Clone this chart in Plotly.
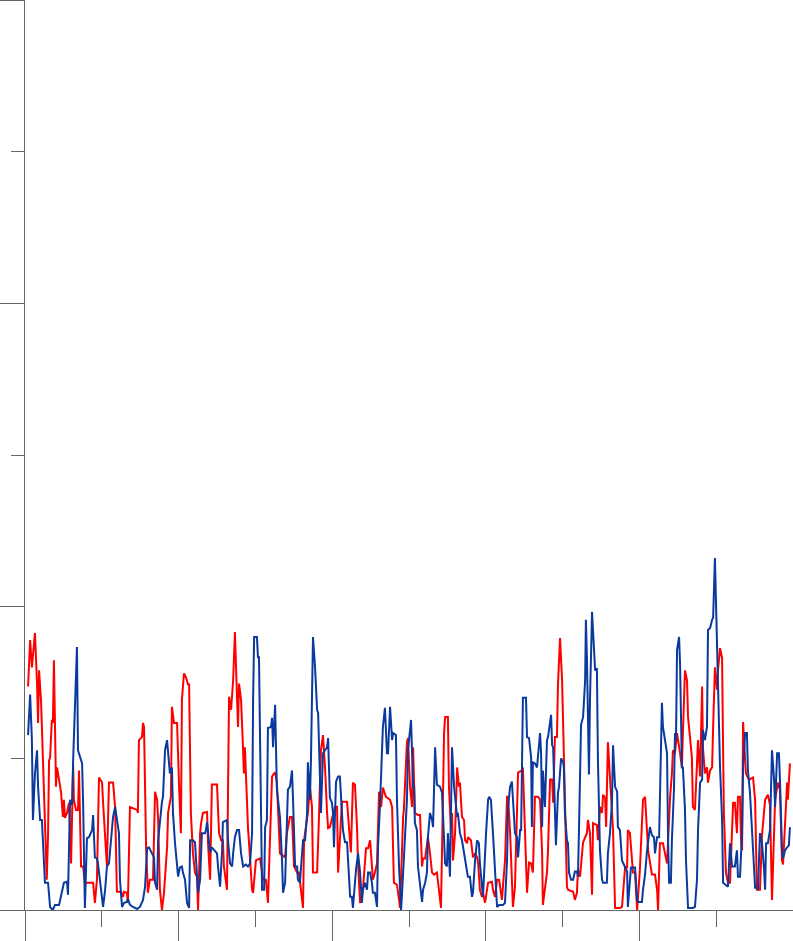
import plotly.graph_objects as go

# ---- red series (x in sample units, y in value units) ----
red_x = [1.2, 2.0, 2.7, 3.9, 4.7, 5.1, 5.5, 6.3, 6.6, 7.8, 8.5, 9.0, 9.4, 9.8, 10.5, 10.9, 11.3,
         12.1, 12.5, 13.3, 14.1, 14.8, 15.2, 15.6, 16.4, 17.2, 17.6, 18.0, 18.8, 19.1, 19.9, 20.7,
         21.1, 21.9, 22.7, 23.4, 25.4, 26.6, 27.3, 28.1, 28.9, 30.1, 30.5, 31.6, 32.0, 32.8, 34.4,
         35.2, 35.9, 37.5, 38.3, 38.7, 39.8, 40.2, 41.0, 43.8, 44.1, 44.5, 45.7, 46.1, 46.5, 47.3,
         48.0, 48.8, 50.0, 50.8, 51.6, 52.0, 52.7, 53.5, 54.3, 55.5, 55.9, 57.0, 57.4, 58.2, 59.4,
         60.2, 60.9, 61.3, 62.1, 62.9, 63.7, 64.1, 64.8, 65.6, 66.4, 67.2, 67.6, 68.4, 68.8, 69.5,
         71.1, 71.5, 72.3, 73.0, 75.0, 75.8, 76.6, 77.3, 77.7, 78.9, 79.7, 80.5, 81.3, 82.0, 82.8,
         83.2, 83.6, 84.4, 85.2, 85.5, 85.9, 86.7, 87.1, 88.7, 89.1, 90.2, 91.8, 93.0, 94.1, 94.9,
         96.5, 97.3, 97.7, 98.4, 99.6, 101.6, 102.3, 103.5, 104.3, 105.1, 106.3, 107.0, 107.8,
         108.6, 109.0, 110.2, 110.5, 111.3, 112.1, 112.5, 114.1, 114.8, 115.6, 116.4, 117.2, 118.0,
         118.4, 119.1, 119.9, 121.1, 121.9, 122.3, 123.0, 123.8, 125.8, 126.6, 127.3, 128.1, 128.9,
         129.7, 130.1, 130.9, 132.0, 133.2, 134.0, 134.8, 135.5, 135.9, 136.7, 137.5, 138.3, 139.1,
         139.8, 141.0, 142.6, 143.4, 144.1, 145.3, 146.1, 146.5, 147.7, 148.0, 149.2, 149.6, 150.4,
         151.2, 151.6, 152.3, 153.5, 154.3, 155.1, 155.5, 156.3, 157.0, 157.4, 158.2, 159.0, 159.8,
         160.9, 161.7, 162.5, 163.3, 163.7, 164.1, 165.2, 165.6, 166.4, 166.8, 167.2, 168.0, 168.8,
         169.5, 169.9, 170.7, 171.5, 171.9, 172.7, 173.0, 174.2, 175.0, 175.8, 176.6, 177.0, 177.7,
         178.5, 178.9, 179.7, 180.9, 182.4, 182.8, 183.6, 184.4, 185.2, 186.3, 187.5, 188.3, 188.7,
         189.5, 190.2, 190.6, 191.4, 192.2, 192.6, 194.1, 194.5, 194.9, 196.1, 196.9, 197.7, 198.4,
         199.2, 200.4, 201.2, 202.0, 202.3, 203.9, 204.3, 205.1, 205.9, 206.3, 207.0, 207.8, 208.2,
         209.0, 209.8, 210.2, 210.9, 211.7, 212.1, 214.1, 214.8, 215.6, 216.0, 216.8, 217.6, 218.0,
         219.5, 219.9, 220.7, 221.5, 221.9, 223.4, 223.8, 224.6, 225.4, 225.8, 226.6, 227.0, 227.7,
         228.5, 229.3, 229.7, 230.5, 232.4, 233.2, 233.6, 234.4, 235.2, 235.5, 236.3, 237.1, 237.5,
         238.3, 239.1, 240.2, 241.4, 242.2, 243.0, 243.4, 244.9, 246.1, 246.9, 247.3, 248.0, 249.2,
         250.8, 251.2, 252.0, 252.7, 253.1, 253.9, 254.7, 255.9, 256.6, 257.0, 257.8, 258.6, 259.0,
         260.5, 260.9, 261.7, 262.5, 262.9, 263.7, 264.5, 264.8, 265.6, 266.4, 266.8, 267.6, 268.4,
         268.8, 269.5, 270.3, 270.7, 271.5, 272.3, 272.7, 273.0, 273.8, 274.6, 275.4, 275.8, 276.6,
         277.3, 278.1, 278.5, 279.3, 279.7, 280.1, 280.5, 281.3, 281.6, 282.8, 284.4, 285.2, 285.9,
         287.1, 287.9, 289.1, 290.2, 291.0, 291.8, 293.0, 294.1, 294.9, 295.7, 296.1, 297.7, 298.0,
         298.8]
red_y = [221, 267, 240, 274, 224, 185, 237, 205, 181, 76, 30, 74, 148, 151, 188, 185, 247,
         122, 141, 129, 116, 92, 109, 91, 96, 106, 79, 46, 143, 109, 99, 99,
         138, 43, 43, 27, 27, 27, 7, 30, 131, 126, 106, 62, 43, 126, 126,
         102, 18, 18, 13, 18, 17, 7, 102, 99, 96, 168, 171, 185, 181, 62,
         17, 30, 30, 117, 109, 89, 20, 0, 17, 62, 96, 112, 201, 185, 185,
         122, 76, 208, 234, 230, 223, 223, 96, 56, 37, 33, 0, 76, 86, 96,
         97, 66, 30, 124, 124, 76, 69, 69, 43, 20, 211, 198, 227, 275, 215,
         181, 224, 208, 158, 135, 161, 109, 82, 20, 17, 49, 51, 30, 30, 7,
         132, 135, 136, 126, 56, 52, 76, 92, 92, 43, 37, 37, 17,
         2, 69, 89, 96, 122, 102, 37, 37, 89, 158, 173, 141, 96,
         81, 82, 89, 102, 102, 37, 69, 107, 107, 76, 57, 126, 124,
         82, 46, 7, 20, 61, 61, 69, 49, 30, 37, 46, 117, 102,
         121, 112, 109, 102, 27, 25, 10, 2, 92, 99, 166, 170, 122,
         102, 161, 96, 94, 94, 43, 51, 51, 62, 72, 56, 37, 35,
         37, 20, 2, 116, 175, 191, 191, 122, 79, 96, 49, 76, 141,
         122, 126, 92, 89, 69, 66, 72, 69, 52, 56, 52, 46, 20,
         13, 17, 7, 27, 28, 20, 13, 30, 30, 10, 49, 112, 112,
         76, 30, 3, 23, 122, 136, 138, 141, 109, 17, 47, 46, 37,
         112, 112, 109, 56, 5, 37, 59, 129, 129, 106, 171, 171, 224,
         269, 227, 185, 119, 23, 20, 18, 10, 17, 40, 33, 56, 67,
         76, 89, 76, 15, 86, 84, 69, 102, 96, 114, 111, 82, 166,
         135, 102, 79, 2, 2, 3, 17, 42, 42, 79, 76, 49, 37,
         37, 0, 40, 109, 112, 82, 59, 35, 35, 20, 0, 66, 66,
         46, 72, 112, 135, 158, 155, 175, 155, 141, 175, 237, 227, 191,
         151, 102, 99, 151, 168, 132, 221, 161, 135, 141, 126, 138, 141,
         181, 240, 218, 237, 259, 249, 158, 96, 37, 27, 27, 56, 106,
         106, 76, 112, 112, 69, 59, 186, 148, 135, 129, 131, 109, 20,
         20, 74, 109, 114, 104, 10, 109, 126, 119, 49, 45, 126, 109,
         145]

# ---- blue series ----
blue_x = [1.2, 2.0, 2.7, 3.1, 3.9, 4.7, 5.1, 5.9, 6.6, 7.0, 7.8, 9.0, 9.8, 10.9, 11.7, 13.3,
          14.5, 15.2, 16.4, 16.8, 17.6, 18.4, 18.8, 19.5, 20.3, 20.7, 21.5, 22.3, 22.7, 23.0, 23.4,
          24.2, 25.0, 26.2, 26.6, 27.3, 28.1, 28.5, 29.3, 30.5, 31.3, 32.0, 32.8, 34.0, 34.4, 35.2,
          35.9, 36.7, 37.1, 37.9, 38.7, 39.8, 40.2, 41.0, 42.2, 43.8, 44.9, 46.1, 46.9, 47.7, 48.4,
          49.6, 50.4, 50.8, 51.6, 52.0, 52.7, 53.5, 53.9, 54.7, 55.5, 55.9, 56.6, 57.4, 57.8, 58.6,
          59.4, 59.8, 60.5, 61.3, 61.7, 62.5, 63.3, 64.1, 64.5, 65.6, 66.4, 67.2, 67.6, 68.4, 69.1,
          70.3, 70.7, 71.1, 71.5, 72.3, 73.0, 73.4, 75.0, 75.4, 76.2, 77.0, 77.3, 78.9, 79.3, 80.1,
          80.9, 81.3, 82.0, 82.8, 83.6, 84.4, 85.2, 86.3, 87.1, 87.9, 88.7, 89.1, 89.5, 90.6, 91.0,
          91.4, 91.8, 92.2, 92.6, 93.4, 93.8, 94.5, 94.9, 96.1, 96.5, 96.9, 97.7, 98.4, 98.8, 99.6,
          100.4, 100.8, 101.6, 102.3, 102.7, 103.5, 104.3, 104.7, 105.5, 106.3, 106.6, 107.4, 108.2,
          108.6, 109.4, 110.2, 110.5, 111.3, 111.7, 112.5, 113.3, 114.1, 114.5, 115.2, 115.6, 116.4,
          117.2, 118.0, 118.4, 119.1, 119.9, 120.3, 120.7, 121.5, 122.3, 123.0, 124.2, 125.0, 125.8,
          126.2, 127.0, 127.7, 128.1, 129.3, 130.1, 130.9, 131.6, 132.0, 132.8, 133.6, 134.0, 134.8,
          135.5, 135.9, 136.7, 137.5, 137.9, 138.7, 139.5, 139.8, 140.6, 141.4, 141.8, 142.6, 143.4,
          143.8, 144.9, 145.3, 146.1, 146.5, 146.9, 147.3, 148.0, 149.2, 149.6, 150.4, 150.8, 151.6,
          152.0, 152.3, 153.1, 153.5, 154.3, 155.1, 155.5, 156.3, 157.0, 157.4, 158.2, 159.0, 159.4,
          160.2, 160.9, 162.1, 162.9, 163.3, 164.1, 164.8, 165.2, 166.0, 166.8, 167.6, 168.8, 169.1,
          169.9, 170.7, 171.5, 172.3, 173.0, 173.8, 174.6, 175.0, 175.8, 176.6, 177.3, 177.7, 178.5,
          178.9, 180.1, 180.9, 181.3, 182.0, 182.8, 183.6, 184.4, 185.2, 186.7, 187.5, 188.3, 188.7,
          189.5, 190.2, 190.6, 191.4, 192.2, 192.6, 193.4, 193.8, 194.5, 195.7, 196.1, 196.9, 197.7,
          198.0, 198.4, 199.2, 200.0, 201.2, 201.6, 202.0, 202.3, 203.1, 203.9, 204.3, 205.5, 205.9,
          206.3, 207.0, 207.4, 208.2, 208.6, 209.4, 210.2, 210.5, 210.9, 211.7, 212.1, 212.5, 213.3,
          214.1, 214.8, 215.6, 216.0, 216.4, 217.2, 218.0, 218.8, 219.1, 219.5, 220.3, 220.7, 221.5,
          222.3, 222.7, 223.4, 223.8, 224.6, 225.4, 225.8, 227.3, 227.7, 228.5, 229.3, 229.7, 230.5,
          231.3, 231.6, 232.4, 233.2, 234.0, 235.2, 235.5, 236.7, 238.3, 239.1, 239.5, 241.0, 241.4,
          242.2, 243.0, 244.1, 244.9, 245.7, 246.1, 246.9, 247.7, 248.0, 248.8, 249.2, 250.8, 251.2,
          251.6, 252.3, 252.7, 253.5, 253.9, 254.3, 254.7, 255.5, 255.9, 256.6, 257.0, 257.8, 258.2,
          259.0, 260.9, 261.7, 262.5, 262.9, 263.7, 264.5, 264.8, 265.6, 266.4, 266.8, 267.6, 268.4,
          268.8, 269.5, 269.9, 270.3, 270.7, 271.5, 272.3, 272.7, 274.6, 275.4, 276.2, 277.3, 278.1,
          278.5, 279.3, 280.1, 280.5, 281.3, 282.0, 282.4, 283.2, 284.0, 284.4, 285.2, 285.9, 286.3,
          287.1, 287.9, 288.7, 289.1, 289.5, 290.2, 291.0, 291.8, 292.6, 293.0, 293.8, 294.5, 294.9,
          295.7, 296.1, 296.9, 297.7, 298.4, 298.8]
blue_y = [173, 213, 168, 89, 135, 158, 122, 89, 89, 69, 27, 27, 3, 0, 5, 5,
          18, 27, 28, 15, 109, 104, 148, 205, 260, 158, 151, 145, 106, 30, 2,
          71, 72, 79, 94, 52, 51, 46, 27, 3, 20, 43, 46, 82, 92, 102,
          89, 76, 30, 3, 7, 8, 11, 5, 3, 1, 3, 10, 23, 61, 62,
          56, 52, 27, 20, 69, 89, 107, 112, 158, 168, 155, 135, 141, 96, 66,
          43, 33, 42, 43, 37, 30, 7, 2, 69, 69, 67, 38, 17, 30, 76,
          76, 79, 87, 76, 57, 62, 61, 56, 43, 23, 59, 87, 89, 69, 46,
          43, 56, 72, 79, 79, 56, 43, 45, 43, 46, 76, 208, 270, 270, 250,
          250, 188, 119, 20, 20, 82, 89, 180, 181, 190, 161, 203, 119, 109, 92,
          49, 17, 27, 92, 119, 122, 138, 109, 43, 43, 30, 27, 56,
          69, 69, 96, 146, 109, 148, 270, 240, 198, 195, 138, 96, 155,
          158, 161, 170, 111, 106, 96, 62, 127, 132, 132, 79, 67, 67,
          52, 13, 13, 2, 40, 56, 37, 7, 20, 27, 20, 37, 37,
          27, 17, 17, 3, 62, 106, 155, 181, 200, 155, 155, 201, 168,
          175, 173, 109, 43, 10, 0, 17, 56, 109, 158, 183, 188, 122,
          122, 86, 79, 43, 23, 8, 20, 27, 37, 72, 96, 89, 82,
          161, 124, 122, 116, 92, 46, 43, 76, 33, 161, 122, 92, 96,
          76, 69, 56, 43, 33, 33, 13, 17, 49, 69, 66, 46, 23,
          13, 76, 109, 112, 109, 76, 33, 3, 5, 5, 7, 49, 102,
          122, 127, 109, 76, 72, 52, 79, 79, 210, 210, 171, 170, 151,
          82, 146, 145, 141, 175, 155, 82, 138, 102, 168, 171, 193, 163,
          161, 86, 64, 116, 122, 150, 146, 141, 96, 69, 66, 37, 30,
          30, 38, 38, 33, 79, 183, 191, 227, 287, 250, 134, 208, 295,
          247, 237, 239, 148, 59, 30, 27, 27, 56, 76, 106, 163, 122,
          117, 82, 79, 49, 45, 38, 3, 42, 42, 10, 8, 8, 20,
          35, 59, 82, 74, 72, 56, 72, 72, 119, 205, 181, 155, 69,
          27, 27, 69, 119, 175, 168, 257, 270, 242, 141, 141, 99, 49,
          2, 2, 3, 30, 79, 126, 129, 178, 168, 181, 277, 279, 287,
          289, 348, 307, 267, 230, 141, 89, 27, 23, 66, 43, 43, 59,
          33, 33, 76, 141, 175, 175, 138, 116, 79, 49, 22, 22, 20,
          76, 66, 40, 20, 66, 66, 79, 158, 129, 102, 155, 155, 129,
          59, 51, 59, 62, 64, 82]

RED = "#ff0000"
BLUE = "#0a3a9e"
AXIS = "#666666"

fig = go.Figure()
fig.add_trace(go.Scatter(x=red_x, y=red_y, mode="lines",
                         line=dict(color=RED, width=2), name="red"))
fig.add_trace(go.Scatter(x=blue_x, y=blue_y, mode="lines",
                         line=dict(color=BLUE, width=2), name="blue"))

fig.update_layout(
    width=793, height=941,
    margin=dict(l=25, r=0, t=0, b=31, pad=0, autoexpand=False),
    paper_bgcolor="white", plot_bgcolor="white",
    showlegend=False,
)
fig.update_xaxes(
    range=[0, 300], showgrid=False, zeroline=False, showticklabels=False, automargin=False,
    showline=True, linecolor=AXIS, linewidth=1,
    ticks="outside", dtick=60, tick0=0, ticklen=40, tickcolor=AXIS, tickwidth=1,
    minor=dict(ticks="outside", dtick=30, tick0=0, ticklen=16, tickcolor=AXIS, tickwidth=1, showgrid=False),
)
fig.update_yaxes(
    range=[0, 900], showgrid=False, zeroline=False, showticklabels=False, automargin=False,
    showline=True, linecolor=AXIS, linewidth=1,
    ticks="outside", dtick=300, tick0=0, ticklen=30, tickcolor=AXIS, tickwidth=1,
    minor=dict(ticks="outside", dtick=150, tick0=0, ticklen=13, tickcolor=AXIS, tickwidth=1, showgrid=False),
)

fig.write_html(
    "out.html",
    config={"displayModeBar": False},
    post_script="document.body.style.margin='0';document.body.style.overflow='hidden';",
)
